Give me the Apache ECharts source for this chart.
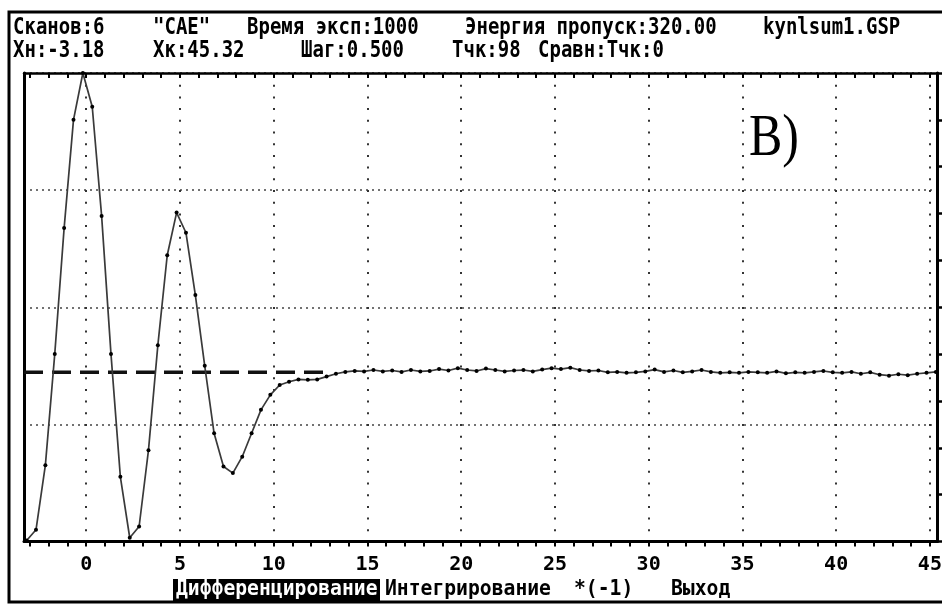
<!DOCTYPE html>
<html>
<head>
<meta charset="utf-8">
<script src="https://cdn.jsdelivr.net/npm/echarts@6/dist/echarts.min.js"></script>
<style>
  html, body { margin: 0; padding: 0; background: #fff; }
  #chart { width: 942px; height: 604px; }
</style>
</head>
<body>
<div id="chart"></div>
<script>
// Scan sampling: first point and step (98 points)
const xStart = -3.18;
const xStep = 0.5;

// Recorded signal, one value per sample
const signalValues = [
  0.02, 0.25, 1.63, 4.00, 6.69, 9.00, 10.00, 9.28, 6.95, 4.00,
  1.38, 0.08, 0.32, 1.95, 4.19, 6.11, 7.02, 6.59, 5.26, 3.75,
  2.31, 1.60, 1.46, 1.81, 2.31, 2.81, 3.13, 3.34, 3.41, 3.46,
  3.45, 3.46, 3.52, 3.58,
  3.62, 3.64, 3.63, 3.66, 3.63, 3.65, 3.62,
  3.66, 3.63, 3.64, 3.68, 3.65, 3.70, 3.66, 3.64, 3.69, 3.66,
  3.63, 3.65, 3.66, 3.63, 3.67, 3.70, 3.68, 3.71, 3.66, 3.64,
  3.65, 3.61, 3.62, 3.60, 3.61, 3.63, 3.67, 3.62, 3.65, 3.61,
  3.63, 3.66, 3.62, 3.60, 3.61, 3.60, 3.62, 3.61, 3.60, 3.63,
  3.59, 3.61, 3.60, 3.62, 3.64, 3.61, 3.60, 3.62, 3.58, 3.61,
  3.56, 3.54, 3.57, 3.55, 3.58, 3.60, 3.62
];

// Axis extents and tick positions
const xRange = [-3.32, 45.38];
const yRange = [0, 10];
const xTickValues = [-3, -2, -1, 0, 1, 2, 3, 4, 5, 6, 7, 8, 9, 10, 11, 12, 13, 14, 15, 16,
  17, 18, 19, 20, 21, 22, 23, 24, 25, 26, 27, 28, 29, 30, 31, 32, 33, 34, 35, 36, 37, 38,
  39, 40, 41, 42, 43, 44, 45];
const xLabelValues = [0, 5, 10, 15, 20, 25, 30, 35, 40, 45];
const xGridValues = [0, 5, 10, 15, 20, 25, 30, 35, 40, 45];

// Reference level (dashed) and where it stops
const baselineLevel = 3.61;
const baselineEndX = 12.8;

// Status lines and menu
const headerRow1 = ['Сканов:6', '"CAE"', 'Время эксп:1000', 'Энергия пропуск:320.00', 'kynlsum1.GSP'];
const headerRow2 = ['Хн:-3.18', 'Хк:45.32', 'Шаг:0.500', 'Тчк:98', 'Сравн:Тчк:0'];
const menuItems = ['Дифференцирование', 'Интегрирование', '*(-1)', 'Выход'];
const panelLabel = ['В', ')'];

// Layout
const row1X = [13, 153, 247, 465, 763];
const row2X = [13, 153, 301, 452, 538];
const menuX = [176, 385, 574, 671];
const MONO = '"DejaVu Sans Mono", "Liberation Mono", monospace';

const signalData = signalValues.map((v, i) => [+(xStart + xStep * i).toFixed(2), v]);
const baselineData = [[xRange[0], baselineLevel], [baselineEndX, baselineLevel]];

function monoText(str, x, y, size, sy, color) {
  return {
    type: 'text', x: x, y: y, scaleY: sy, z: 50,
    style: {
      text: str, font: 'bold ' + size + 'px ' + MONO,
      fill: color, textAlign: 'left', textVerticalAlign: 'top'
    }
  };
}

const graphics = [];
// outer frame
graphics.push({
  type: 'rect', z: 40,
  shape: { x: 9, y: 12, width: 940, height: 590 },
  style: { fill: 'none', stroke: '#000', lineWidth: 3 }
});
headerRow1.forEach((t, i) => graphics.push(monoText(t, row1X[i], 16.5, 19, 1.2, '#000')));
headerRow2.forEach((t, i) => graphics.push(monoText(t, row2X[i], 39.5, 19, 1.2, '#000')));
// highlighted menu entry
graphics.push({
  type: 'rect', z: 45,
  shape: { x: 173, y: 579, width: 207, height: 23 },
  style: { fill: '#000' }
});
menuItems.forEach((t, i) => graphics.push(monoText(t, menuX[i], 578.5, 19.7, 1.12, i === 0 ? '#fff' : '#000')));
// panel letter
graphics.push({
  type: 'text', x: 749, y: 109, scaleY: 1.2, z: 50,
  style: {
    text: '{a|' + panelLabel[0] + '}{b|' + panelLabel[1] + '}',
    textAlign: 'left', textVerticalAlign: 'top',
    rich: {
      a: { fontFamily: '"Liberation Serif", "DejaVu Serif", serif', fontSize: 50, color: '#111' },
      b: { fontFamily: '"Liberation Serif", "DejaVu Serif", serif', fontSize: 50, color: '#3a2612' }
    }
  }
});

const chart = echarts.init(document.getElementById('chart'), null, { renderer: 'canvas' });
chart.setOption({
  animation: false,
  backgroundColor: '#fff',
  grid: { left: 24, top: 73, width: 913, height: 468.5, outerBoundsMode: 'none', containLabel: false },
  xAxis: [
    {
      type: 'value', position: 'bottom', min: xRange[0], max: xRange[1],
      axisLine: { show: true, onZero: false, lineStyle: { color: '#000', width: 3 } },
      axisTick: { show: true, customValues: xTickValues, inside: false, length: 5, lineStyle: { color: '#000', width: 2 } },
      axisLabel: {
        show: true, customValues: xLabelValues, margin: 13,
        fontFamily: MONO, fontWeight: 'bold', fontSize: 20, color: '#000',
        formatter: v => String(v)
      },
      splitLine: { show: false }
    },
    {
      type: 'value', position: 'top', min: xRange[0], max: xRange[1],
      axisLine: { show: true, onZero: false, lineStyle: { color: '#000', width: 2.5 } },
      axisTick: { show: true, customValues: xTickValues, inside: true, length: 5, lineStyle: { color: '#000', width: 2 } },
      axisLabel: { show: false },
      splitLine: { show: false }
    },
    {
      type: 'value', position: 'bottom', min: xRange[0], max: xRange[1],
      axisLine: { show: false },
      axisTick: { show: false, customValues: xGridValues },
      axisLabel: { show: false },
      splitLine: { show: true, lineStyle: { color: '#333', width: 2, type: [2, 9.7] } }
    }
  ],
  yAxis: [
    {
      type: 'value', position: 'left', min: yRange[0], max: yRange[1], interval: 2.5,
      axisLine: { show: true, onZero: false, lineStyle: { color: '#000', width: 3 } },
      axisTick: { show: false },
      axisLabel: { show: false },
      splitLine: { show: true, lineStyle: { color: '#444', width: 1.6, type: [2, 4] } }
    },
    {
      type: 'value', position: 'right', min: yRange[0], max: yRange[1], interval: 1,
      axisLine: { show: true, onZero: false, lineStyle: { color: '#000', width: 3 } },
      axisTick: { show: true, inside: false, length: 6, lineStyle: { color: '#000', width: 2.5 } },
      axisLabel: { show: false },
      splitLine: { show: false }
    }
  ],
  series: [
    {
      name: 'baseline', type: 'line', xAxisIndex: 0, yAxisIndex: 0,
      data: baselineData, symbol: 'none', silent: true, z: 3,
      lineStyle: { color: '#111', width: 3.5, type: [19, 9] }
    },
    {
      name: 'signal', type: 'line', xAxisIndex: 0, yAxisIndex: 0,
      data: signalData, showSymbol: true, symbol: 'circle', symbolSize: 4,
      clip: false, z: 4,
      itemStyle: { color: '#000' },
      lineStyle: { color: '#3a3a3a', width: 1.7 }
    }
  ],
  graphic: graphics
});
</script>
</body>
</html>
